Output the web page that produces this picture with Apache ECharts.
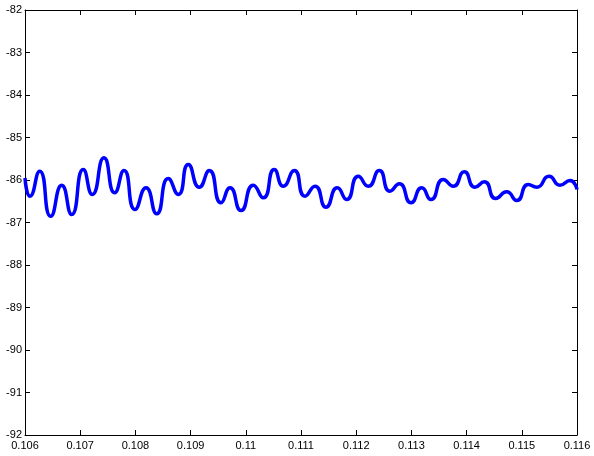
<!DOCTYPE html>
<html>
<head>
<meta charset="utf-8">
<script src="https://cdn.jsdelivr.net/npm/echarts@6/dist/echarts.min.js"></script>
<style>
html,body{margin:0;padding:0;background:#fff;}
#c{width:594px;height:456px;}
</style>
</head>
<body>
<div id="c"></div>
<script>
var tX = [0.106000,0.106091,0.106266,0.106466,0.106665,0.106846,0.107056,0.107219,0.107431,0.107625,0.107793,0.107993,0.108192,0.108386,0.108596,0.108777,0.108958,0.109158,0.109339,0.109551,0.109714,0.109913,0.110136,0.110317,0.110516,0.110679,0.110879,0.111072,0.111254,0.111453,0.111658,0.111828,0.112038,0.112219,0.112418,0.112612,0.112781,0.112993,0.113187,0.113355,0.113578,0.113759,0.113958,0.114152,0.114321,0.114527,0.114726,0.114908,0.115118,0.115270,0.115493,0.115692,0.115873,0.116000];
var vY = [-85.953,-86.381,-85.793,-86.852,-86.122,-86.812,-85.753,-86.341,-85.478,-86.301,-85.776,-86.694,-86.184,-86.795,-85.965,-86.341,-85.635,-86.169,-85.776,-86.536,-86.184,-86.718,-86.122,-86.419,-85.753,-86.146,-85.776,-86.381,-86.146,-86.640,-86.184,-86.459,-85.911,-86.146,-85.776,-86.264,-86.089,-86.536,-86.184,-86.459,-85.988,-86.146,-85.807,-86.169,-86.042,-86.435,-86.278,-86.482,-86.106,-86.169,-85.911,-86.122,-86.012,-86.224];
var xTickLabels = ['0.106','0.107','0.108','0.109','0.11','0.111','0.112','0.113','0.114','0.115','0.116'];
var yTickLabels = ['-92','-91','-90','-89','-88','-87','-86','-85','-84','-83','-82'];

var data = tX.map(function(x,i){return [x, vY[i]];});
var font = {fontFamily:'Liberation Sans, Arial, sans-serif', fontSize:11, color:'#000'};
var chart = echarts.init(document.getElementById('c'), null, {renderer:'canvas'});
function xFmt(v){ var s = parseFloat(v.toFixed(3)).toString(); return xTickLabels.indexOf(s) >= 0 ? s : ''; }
function yFmt(v){ var s = Math.round(v).toString(); return yTickLabels.indexOf(s) >= 0 ? s : ''; }
var axLine = {show:true, lineStyle:{color:'#000', width:1}};
var tick = {show:true, inside:true, length:5, lineStyle:{color:'#000'}};
chart.setOption({
  animation:false,
  backgroundColor:'#fff',
  grid:{left:25, right:17, top:10, bottom:21, show:false},
  xAxis:[
    {type:'value', min:0.106, max:0.116, interval:0.001, position:'bottom',
     axisLine:axLine, axisTick:tick, splitLine:{show:false},
     axisLabel:Object.assign({margin:5, formatter:xFmt, showMinLabel:true, showMaxLabel:true}, font)},
    {type:'value', min:0.106, max:0.116, interval:0.001, position:'top',
     axisLine:axLine, axisTick:tick, splitLine:{show:false}, axisLabel:{show:false}}
  ],
  yAxis:[
    {type:'value', min:-92, max:-82, interval:1, position:'left',
     axisLine:axLine, axisTick:tick, splitLine:{show:false},
     axisLabel:Object.assign({margin:3, formatter:yFmt}, font)},
    {type:'value', min:-92, max:-82, interval:1, position:'right',
     axisLine:axLine, axisTick:tick, splitLine:{show:false}, axisLabel:{show:false}}
  ],
  series:[{
    type:'line', data:data, xAxisIndex:0, yAxisIndex:0,
    showSymbol:false, smooth:0.6,
    lineStyle:{color:'#0000ff', width:3.5}
  }]
});
</script>
</body>
</html>
